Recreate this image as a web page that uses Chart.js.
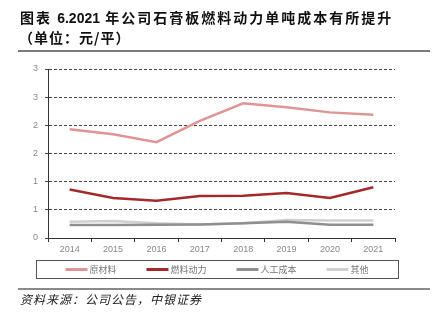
<!DOCTYPE html>
<html><head><meta charset="utf-8">
<script src="https://cdn.jsdelivr.net/npm/chart.js@4/dist/chart.umd.min.js"></script>
<style>
html,body{margin:0;padding:0;background:#fff;}
#wrap{position:relative;width:436px;height:326px;overflow:hidden;background:#fff;}
canvas{position:absolute;left:0;top:0;}
.t{position:absolute;white-space:nowrap;color:#111;font-family:"Noto Sans CJK SC",sans-serif;}
#t1{left:20px;top:7px;font-size:14px;line-height:20px;font-weight:bold;letter-spacing:2px;}
#t1 .d{font-family:"Liberation Sans",Arial,sans-serif;letter-spacing:0;}
#t2{left:19px;top:27px;font-size:14px;line-height:20px;font-weight:bold;letter-spacing:1px;}
.rule{position:absolute;left:18px;width:412px;background:#7a7a7a;}
#r1{top:50px;height:2px;}
#r2{top:288px;height:1.5px;background:#8a8a8a;}
#src{left:20px;top:291px;font-size:12px;line-height:16px;font-style:italic;letter-spacing:1px;color:#222;}
</style></head>
<body>
<div id="wrap">
<canvas id="c" width="436" height="326"></canvas>
<div class="t" id="t1">图表 <span class="d">6.2021</span> 年公司石膏板燃料动力单吨成本有所提升</div>
<div class="t" id="t2">（单位：元/平）</div>
<div class="rule" id="r1"></div>
<div class="rule" id="r2"></div>
<div class="t" id="src">资料来源：公司公告，中银证券</div>
</div>
<script>
const categories = ['2014','2015','2016','2017','2018','2019','2020','2021'];
const rawMaterial = [1.93, 1.84, 1.70, 2.08, 2.39, 2.32, 2.23, 2.19];
const fuelPower   = [0.86, 0.71, 0.66, 0.745, 0.75, 0.80, 0.71, 0.90];
const labourCost  = [0.23, 0.23, 0.235, 0.24, 0.26, 0.29, 0.235, 0.235];
const otherCost   = [0.29, 0.30, 0.26, 0.24, 0.26, 0.32, 0.31, 0.31];
const seriesNames = ['原材料','燃料动力','人工成本','其他'];
const yTickLabels = ['0','1','1','2','2','3','3'];

const colors = ['#e09494','#a3292b','#8f8f8f','#d0d0d0'];
const seriesData = [rawMaterial, fuelPower, labourCost, otherCost];

const boxLegend = {
  id:'boxLegend',
  afterDraw(chart){
    const ctx = chart.ctx;
    const bx = 36, by = 260, bw = 362, bh = 18;
    ctx.save();
    ctx.strokeStyle = '#555';
    ctx.lineWidth = 1;
    ctx.strokeRect(bx+0.5, by+0.5, bw, bh);
    ctx.font = '9px "Noto Sans CJK SC", sans-serif';
    const sample = 22, gap = 2, spacing = 30;
    const items = chart.data.datasets.map(d => ({label:d.label, color:d.borderColor, w: sample + gap + ctx.measureText(d.label).width}));
    const total = items.reduce((s,it)=>s+it.w,0) + spacing*(items.length-1);
    let x = bx + (bw - total)/2;
    const cy = by + bh/2 + 0.5;
    items.forEach(it => {
      ctx.strokeStyle = it.color;
      ctx.lineWidth = 3;
      ctx.beginPath(); ctx.moveTo(x, cy); ctx.lineTo(x+sample, cy); ctx.stroke();
      ctx.fillStyle = '#777';
      ctx.textBaseline = 'middle';
      ctx.textAlign = 'left';
      ctx.fillText(it.label, x + sample + gap, cy);
      x += it.w + spacing;
    });
    ctx.restore();
  }
};

new Chart(document.getElementById('c'), {
  type:'line',
  data:{
    labels: categories,
    datasets: seriesNames.map((n,i)=>({
      label:n, data:seriesData[i], borderColor:colors[i], backgroundColor:colors[i],
      borderWidth:2.5, pointRadius:0, tension:0, fill:false
    }))
  },
  options:{
    responsive:false, animation:false,
    layout:{padding:{left:0,right:41,top:69,bottom:0}},
    plugins:{legend:{display:false}, tooltip:{enabled:false}},
    scales:{
      x:{
        offset:true,
        grid:{display:true, drawOnChartArea:false, drawTicks:true, tickLength:4, offset:true, color:'#333'},
        border:{display:true, color:'#333', width:1},
        ticks:{color:'#888', font:{size:9, family:'"Liberation Sans", Arial, sans-serif'}, padding:2, maxRotation:0},
        afterFit(s){ s.height = 326 - 238; }
      },
      y:{
        min:0, max:3,
        ticks:{stepSize:0.5, color:'#888', padding:7, font:{size:9, family:'"Liberation Sans", Arial, sans-serif'},
          callback:(v,i)=>yTickLabels[i]},
        grid:{color:'#444', lineWidth:1, tickLength:3, drawTicks:true},
        border:{display:true, color:'#333', width:1, dash:[3,2]},
        afterFit(s){ s.width = 48; }
      }
    }
  },
  plugins:[boxLegend]
});
</script>
</body></html>
